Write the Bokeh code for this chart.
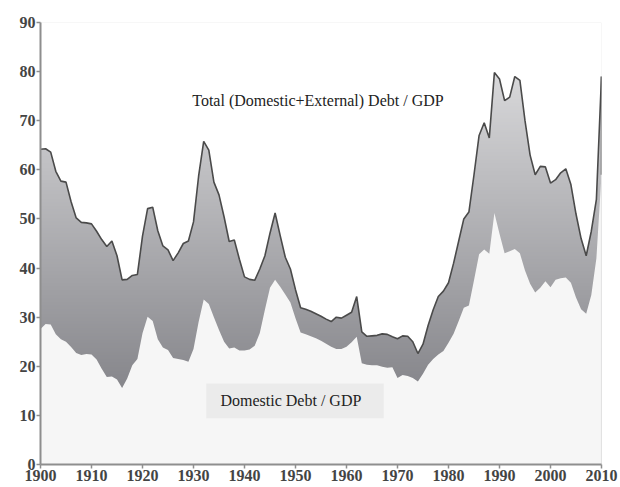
import numpy as np
from bokeh.plotting import figure
from bokeh.models import FixedTicker, Label, BoxAnnotation, Range1d
from bokeh.embed import file_html
from bokeh.resources import INLINE

years = list(range(1900, 2011))

total = [
    64.2, 64.3, 63.6, 59.7, 57.7, 57.5, 53.5, 50.2, 49.3, 49.2,   # 1900-1909
    49.0, 47.5, 45.8, 44.4, 45.5, 42.5, 37.6, 37.7, 38.5, 38.7,   # 1910-1919
    46.5, 52.1, 52.4, 47.6, 44.5, 43.7, 41.5, 43.1, 45.0, 45.5,   # 1920-1929
    49.4, 58.7, 65.8, 64.0, 57.5, 54.9, 50.4, 45.4, 45.7, 41.8,   # 1930-1939
    38.2, 37.7, 37.5, 39.8, 42.5, 47.1, 51.2, 46.6, 42.2, 39.8,   # 1940-1949
    35.6, 31.9, 31.6, 31.2, 30.7, 30.2, 29.6, 29.1, 30.0, 29.8,   # 1950-1959
    30.4, 31.0, 34.2, 27.0, 26.1, 26.2, 26.3, 26.6, 26.5, 26.0,   # 1960-1969
    25.6, 26.2, 26.1, 25.0, 22.6, 24.5, 28.3, 31.5, 34.2, 35.3,   # 1970-1979
    37.0, 41.0, 45.5, 50.0, 51.4, 59.0, 67.0, 69.6, 66.5, 79.8,   # 1980-1989
    78.5, 74.1, 74.8, 79.0, 78.2, 70.0, 63.0, 59.0, 60.7, 60.6,   # 1990-1999
    57.3, 58.0, 59.4, 60.2, 57.0, 51.0, 46.0, 42.5, 47.5, 54.0,   # 2000-2009
    79.0,                                                          # 2010
]

domestic = [
    27.6, 28.6, 28.5, 26.5, 25.5, 25.0, 23.9, 22.7, 22.3, 22.5,   # 1900-1909
    22.4, 21.4, 19.5, 17.8, 17.9, 17.3, 15.6, 17.5, 20.2, 21.5,   # 1910-1919
    26.7, 30.1, 29.2, 25.5, 23.8, 23.3, 21.7, 21.5, 21.3, 20.9,   # 1920-1929
    23.5, 29.0, 33.6, 32.7, 30.0, 27.4, 25.0, 23.6, 23.8, 23.2,   # 1930-1939
    23.2, 23.4, 24.2, 26.8, 31.5, 36.0, 37.6, 36.2, 34.6, 33.0,   # 1940-1949
    29.8, 26.9, 26.5, 26.1, 25.7, 25.2, 24.6, 24.0, 23.5, 23.5,   # 1950-1959
    24.0, 24.9, 26.0, 20.6, 20.3, 20.2, 20.2, 19.9, 19.7, 19.8,   # 1960-1969
    17.6, 18.2, 18.0, 17.6, 16.9, 18.5, 20.3, 21.5, 22.4, 23.1,   # 1970-1979
    24.8, 26.6, 29.2, 31.9, 32.4, 37.5, 42.8, 43.8, 42.9, 51.2,   # 1980-1989
    47.0, 43.0, 43.4, 43.9, 43.0, 39.5, 36.8, 35.0, 36.0, 37.3,   # 1990-1999
    36.1, 37.6, 37.9, 38.1, 37.0, 34.0, 31.6, 30.7, 34.5, 42.0,   # 2000-2009
    59.0,                                                          # 2010
]

x_ticks = [1900, 1910, 1920, 1930, 1940, 1950, 1960, 1970, 1980, 1990, 2000, 2010]
y_ticks = [0, 10, 20, 30, 40, 50, 60, 70, 80, 90]

total_label = "Total (Domestic+External) Debt / GDP"
domestic_label = "Domestic Debt / GDP"

SERIF = "Liberation Serif"

p = figure(width=620, height=487, output_backend="svg", toolbar_location=None,
           x_range=Range1d(years[0], years[-1]), y_range=Range1d(y_ticks[0], y_ticks[-1]),
           min_border_left=40, min_border_right=19, min_border_top=22, min_border_bottom=23)
p.background_fill_color = "white"
p.border_fill_color = "white"
p.outline_line_color = None
p.xgrid.visible = False
p.ygrid.visible = False

# vertical gradient (style only) masked by the data areas
ny = 300
vals = np.linspace(y_ticks[0], y_ticks[-1], ny)
t = np.clip((vals - 15.0) / (80.0 - 15.0), 0, 1)
img = np.empty((ny, 2), dtype=np.uint32)
view = img.view(dtype=np.uint8).reshape((ny, 2, 4))
rr = (134 + t * (217 - 134)).astype(np.uint8)
bb = (139 + t * (219 - 139)).astype(np.uint8)
view[:, :, 0] = rr[:, None]
view[:, :, 1] = rr[:, None]
view[:, :, 2] = bb[:, None]
view[:, :, 3] = 255
p.image_rgba(image=[img], x=years[0], y=y_ticks[0], dw=years[-1] - years[0], dh=y_ticks[-1] - y_ticks[0])

# mask above total
p.varea(x=years, y1=total, y2=y_ticks[-1], fill_color="white")
# domestic area
p.varea(x=years, y1=y_ticks[0], y2=domestic, fill_color="#f6f6f6")

# right edges
p.segment(x0=[years[-1]], y0=[y_ticks[0]], x1=[years[-1]], y1=[domestic[-1]],
          line_color="#dddddd", line_width=1.2)
p.segment(x0=[years[-1]], y0=[domestic[-1]], x1=[years[-1]], y1=[total[-1]],
          line_color="#6a6a6a", line_width=1.6)

# total line
p.line(years, total, line_color="#4a4a4a", line_width=1.6)

# axes
for ax in (p.xaxis[0], p.yaxis[0]):
    ax.axis_line_color = "#8e8e8e"
    ax.axis_line_width = 2
    ax.major_tick_line_color = "#8e8e8e"
    ax.major_tick_line_width = 1.5
    ax.major_tick_in = 0
    ax.major_tick_out = 4
    ax.minor_tick_line_color = None
    ax.major_label_text_font = SERIF
    ax.major_label_text_font_size = "16px"
    ax.major_label_text_font_style = "bold"
    ax.major_label_text_color = "#444444"
    ax.major_label_standoff = 1
p.xaxis.ticker = FixedTicker(ticks=x_ticks)
p.yaxis.ticker = FixedTicker(ticks=y_ticks)

p.add_layout(Label(x=1954.4, y=74.1, text=total_label, text_align="center",
                   text_baseline="middle", text_font=SERIF, text_font_size="16px",
                   text_color="#222222"))

p.add_layout(BoxAnnotation(left=1932.5, right=1967.3, bottom=9.4, top=16.5,
                           fill_color="#ebebeb", fill_alpha=1.0, line_color=None))
p.add_layout(Label(x=1949.1, y=13.0, text=domestic_label, text_align="center",
                   text_baseline="middle", text_font=SERIF, text_font_size="16px",
                   text_color="#222222"))

open("out.html", "w").write(file_html(p, INLINE))
